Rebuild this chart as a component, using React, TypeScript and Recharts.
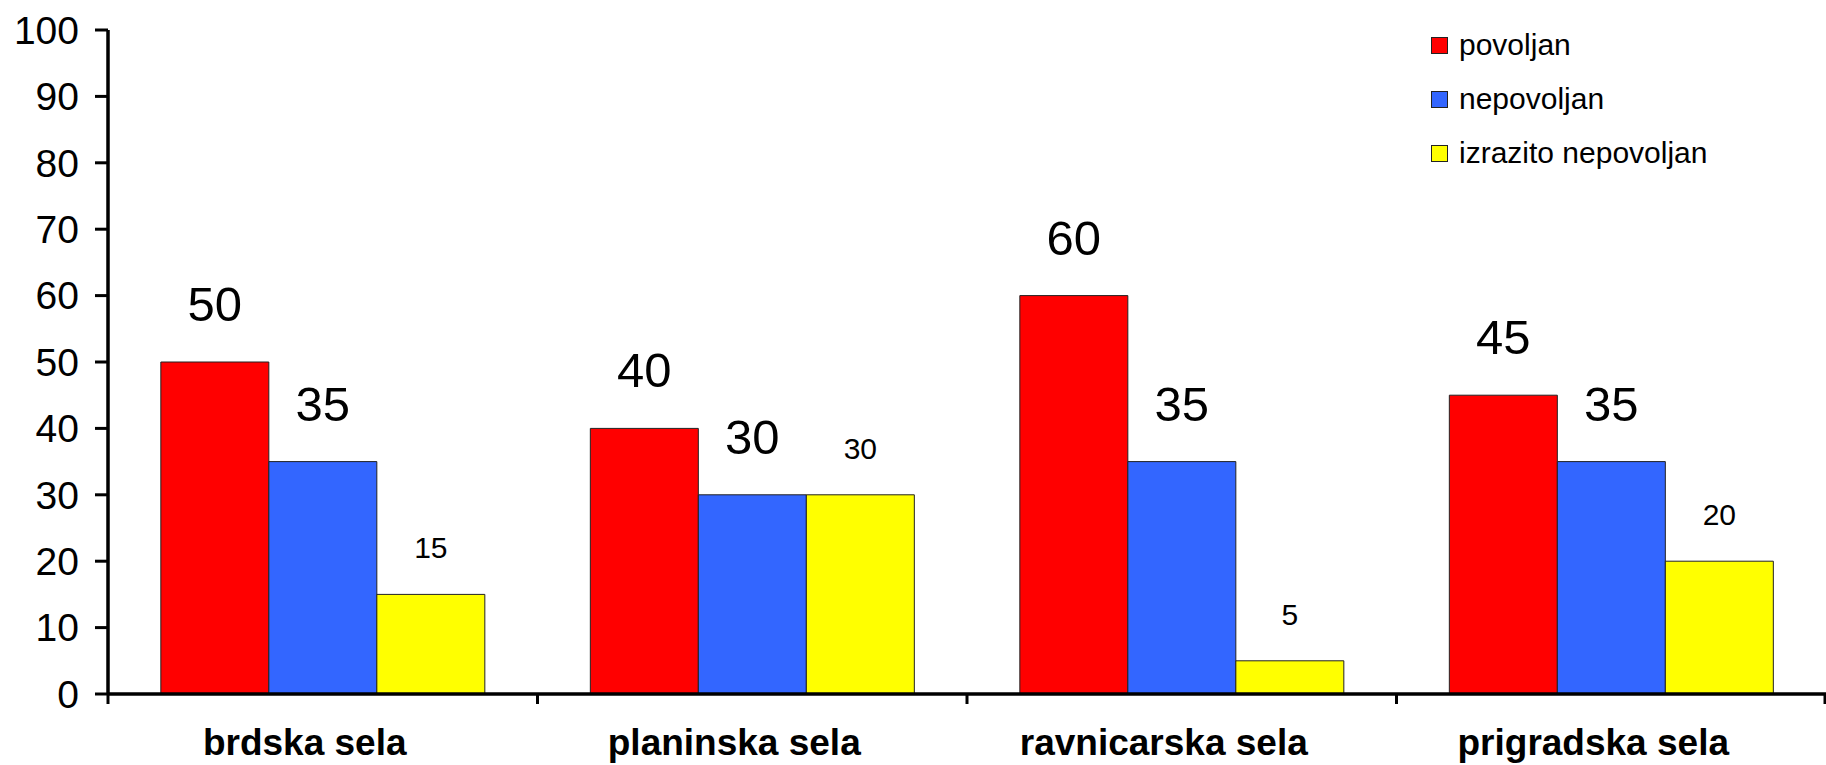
import React from 'react';
import { BarChart, Bar, XAxis, YAxis, Legend, LabelList } from 'recharts';

const categories = ['brdska sela', 'planinska sela', 'ravnicarska sela', 'prigradska sela'];
const povoljan = [50, 40, 60, 45];
const nepovoljan = [35, 30, 35, 35];
const izrazitoNepovoljan = [15, 30, 5, 20];
const yTicks = [0, 10, 20, 30, 40, 50, 60, 70, 80, 90, 100];
const seriesKeys = ['povoljan', 'nepovoljan', 'izrazito'];
const seriesNames = ['povoljan', 'nepovoljan', 'izrazito nepovoljan'];
const seriesColors = ['#FF0000', '#3366FF', '#FFFF00'];

const data = categories.map((c, i) => ({
  name: c,
  povoljan: povoljan[i],
  nepovoljan: nepovoljan[i],
  izrazito: izrazitoNepovoljan[i],
}));

const FONT = '"Liberation Sans", Arial, Helvetica, sans-serif';
const W = 1826;
const H = 765;
const Y_AXIS_W = 108;
const BAND_HALF = (W - Y_AXIS_W) / categories.length / 2;

const makeLabel = (fontSize: number, gap: number) => (props: any) => {
  const { x, y, width, value } = props;
  return (
    <text
      x={Number(x) + Number(width) / 2}
      y={Number(y) - gap}
      textAnchor="middle"
      fontSize={fontSize}
      fontFamily={FONT}
      fill="#000"
    >
      {value}
    </text>
  );
};

const XTick = (props: any) => {
  const { x, y, payload, index } = props;
  const half = payload && payload.offset > 0 ? payload.offset : BAND_HALF;
  const last = index === categories.length - 1;
  return (
    <g>
      <line x1={x - half} x2={x - half} y1={y} y2={y + 10} stroke="#000" strokeWidth={3} />
      {last && <line x1={x + half - 1} x2={x + half - 1} y1={y} y2={y + 10} stroke="#000" strokeWidth={3} />}
      <text
        x={x}
        dx={-18}
        y={y + 61}
        textAnchor="middle"
        fontSize={37}
        fontWeight="bold"
        fontFamily={FONT}
        fill="#000"
      >
        {payload.value}
      </text>
    </g>
  );
};

const renderLegend = () => (
  <div style={{ fontFamily: FONT, fontSize: 30, color: '#000' }}>
    {seriesNames.map((n, i) => (
      <div key={n} style={{ display: 'flex', alignItems: 'center', height: 54, whiteSpace: 'nowrap' }}>
        <span
          style={{
            display: 'inline-block',
            width: 17,
            height: 17,
            background: seriesColors[i],
            border: '1px solid #222',
            boxSizing: 'border-box',
            marginRight: 11,
          }}
        />
        <span>{n}</span>
      </div>
    ))}
  </div>
);

export default function App() {
  return (
    <div style={{ position: 'absolute', left: 0, top: 0, width: W, height: H, background: '#fff' }}>
      <BarChart
        width={W}
        height={H}
        data={data}
        margin={{ top: 30, right: 0, bottom: 0, left: 0 }}
        barCategoryGap="12.3%"
        barGap={0}
      >
        <XAxis
          dataKey="name"
          height={71}
          tickLine={false}
          tickSize={0}
          tickMargin={0}
          axisLine={{ stroke: '#000', strokeWidth: 3.5 }}
          tick={<XTick />}
          interval={0}
        />
        <YAxis
          width={Y_AXIS_W}
          domain={[0, 100]}
          ticks={yTicks}
          interval={0}
          tickSize={13}
          tickMargin={16}
          axisLine={{ stroke: '#000', strokeWidth: 3.5 }}
          tickLine={{ stroke: '#000', strokeWidth: 3 }}
          tick={{ fill: '#000', fontSize: 39, fontFamily: FONT }}
        />
        <Legend
          layout="horizontal"
          verticalAlign="middle"
          align="center"
          content={renderLegend}
          wrapperStyle={{ left: 1431, top: 18, width: 'auto', height: 'auto' }}
        />
        {seriesKeys.map((k, i) => (
          <Bar
            key={k}
            dataKey={k}
            name={seriesNames[i]}
            fill={seriesColors[i]}
            stroke="#222"
            strokeWidth={1}
            isAnimationActive={false}
          >
            <LabelList
              dataKey={k}
              content={i < 2 ? makeLabel(49, 41) : makeLabel(30, 36)}
            />
          </Bar>
        ))}
      </BarChart>
    </div>
  );
}
